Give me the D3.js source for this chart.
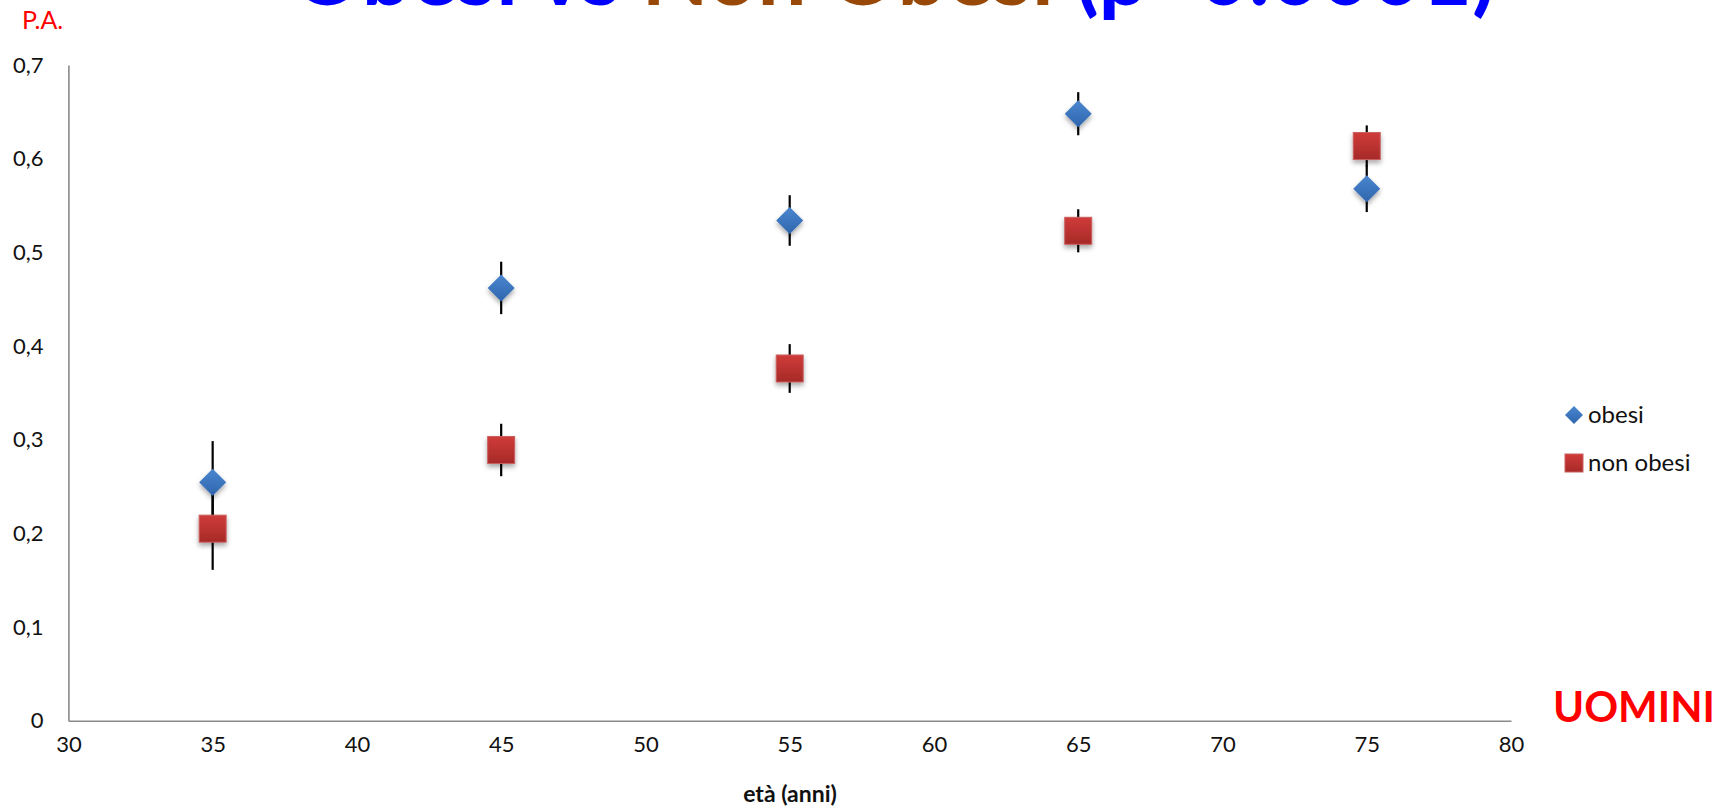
<!DOCTYPE html>
<html>
<head>
<meta charset="utf-8">
<script src="https://cdn.jsdelivr.net/npm/d3@7"></script>
<style>
  html, body { margin: 0; padding: 0; background: #fff; overflow: hidden; }
  svg { display: block; font-family: Lato, "Open Sans", sans-serif; }
</style>
</head>
<body>
<svg id="chart" width="1729" height="811"></svg>
<script>
// Age groups (years) and mean values with error half-widths
const ages = [35, 45, 55, 65, 75];
const obesi = [0.2545, 0.462, 0.534, 0.648, 0.568];
const obesiErr = [0.044, 0.028, 0.027, 0.023, 0.025];
const nonObesi = [0.205, 0.289, 0.376, 0.523, 0.6135];
const nonObesiErr = [0.044, 0.028, 0.026, 0.023, 0.022];
const xTicks = [30, 35, 40, 45, 50, 55, 60, 65, 70, 75, 80];
const yTicks = [0, 0.1, 0.2, 0.3, 0.4, 0.5, 0.6, 0.7];
const seriesNames = ["obesi", "non obesi"];

const svg = d3.select("#chart");
const defs = svg.append("defs");

// marker gradients and soft shadow
const gBlue = defs.append("linearGradient").attr("id", "gBlue").attr("x1", 0).attr("y1", 0).attr("x2", 0).attr("y2", 1);
gBlue.append("stop").attr("offset", "0%").attr("stop-color", "#4a86cf");
gBlue.append("stop").attr("offset", "100%").attr("stop-color", "#2f66ad");
const gRed = defs.append("linearGradient").attr("id", "gRed").attr("x1", 0).attr("y1", 0).attr("x2", 0).attr("y2", 1);
gRed.append("stop").attr("offset", "0%").attr("stop-color", "#d03b39");
gRed.append("stop").attr("offset", "100%").attr("stop-color", "#a62a28");
const shadow = defs.append("filter").attr("id", "shadow").attr("x", "-50%").attr("y", "-50%").attr("width", "200%").attr("height", "220%");
shadow.append("feDropShadow").attr("dx", 0).attr("dy", 3).attr("stdDeviation", 2.5)
  .attr("flood-color", "#000").attr("flood-opacity", 0.35);

const x = d3.scaleLinear().domain([30, 80]).range([68.4, 1511]);
const y = d3.scaleLinear().domain([0, 0.7]).range([720.7, 65]);

// axes (no tick marks, gray lines)
const fmt = d => d === 0 ? "0" : d3.format(".1f")(d).replace(".", ",");
const yAxis = svg.append("g").attr("transform", `translate(${x(30)},0)`)
  .call(d3.axisLeft(y).tickValues(yTicks).tickFormat(fmt).tickSize(0).tickPadding(25));
const xAxis = svg.append("g").attr("transform", `translate(0,${y(0)})`)
  .call(d3.axisBottom(x).tickValues(xTicks).tickFormat(d3.format("d")).tickSize(0).tickPadding(25));
[yAxis, xAxis].forEach(a => {
  a.select(".domain").attr("stroke", "#8a8a8a").attr("stroke-width", 1.6);
  a.selectAll("text").attr("font-family", "Lato, sans-serif").attr("font-size", 22).attr("fill", "#111");
});
xAxis.selectAll("text").attr("dy", "0.3em");

// error bars
const bars = svg.append("g").attr("stroke", "#000").attr("stroke-width", 2.2);
ages.forEach((a, i) => {
  bars.append("line").attr("x1", x(a)).attr("x2", x(a))
    .attr("y1", y(obesi[i] + obesiErr[i])).attr("y2", y(obesi[i] - obesiErr[i]));
  bars.append("line").attr("x1", x(a)).attr("x2", x(a))
    .attr("y1", y(nonObesi[i] + nonObesiErr[i])).attr("y2", y(nonObesi[i] - nonObesiErr[i]));
});

// markers
const diamond = s => `M0,${-s}L${s},0L0,${s}L${-s},0Z`;
svg.append("g").selectAll("path").data(ages).join("path")
  .attr("d", diamond(13.5))
  .attr("transform", (a, i) => `translate(${x(a)},${y(obesi[i])})`)
  .attr("fill", "url(#gBlue)").attr("filter", "url(#shadow)");
svg.append("g").selectAll("rect").data(ages).join("rect")
  .attr("x", a => x(a) - 13.5).attr("y", (a, i) => y(nonObesi[i]) - 13.5)
  .attr("width", 27).attr("height", 27)
  .attr("fill", "url(#gRed)").attr("stroke", "#c96060").attr("stroke-width", 1)
  .attr("filter", "url(#shadow)");

// legend
const lg = svg.append("g");
lg.append("path").attr("d", diamond(9)).attr("transform", "translate(1574,415)").attr("fill", "url(#gBlue)");
lg.append("rect").attr("x", 1565).attr("y", 454).attr("width", 18).attr("height", 18)
  .attr("fill", "url(#gRed)").attr("stroke", "#c96060").attr("stroke-width", 1);
lg.selectAll("text").data(seriesNames).join("text")
  .attr("x", 1588).attr("y", (d, i) => 415 + i * 48).attr("dy", "0.35em")
  .attr("font-size", 24).attr("fill", "#111").text(d => d);

// axis labels
svg.append("text").attr("x", 22).attr("y", 29).attr("font-size", 25).attr("fill", "#ff0000").text("P.A.");
svg.append("text").attr("x", 790).attr("y", 794).attr("dy", "0.35em").attr("text-anchor", "middle")
  .attr("font-size", 23).attr("font-weight", 700).attr("fill", "#111").text("età (anni)");
svg.append("text").attr("x", 1553).attr("y", 722).attr("font-size", 42).attr("font-weight", 700)
  .attr("fill", "#ff0000").text("UOMINI");

// title, mostly above the top edge
const title = svg.append("text").attr("x", 292).attr("y", 5).attr("font-weight", 700).attr("font-size", 80);
title.append("tspan").attr("fill", "#0000ff").text("Obesi vs ");
title.append("tspan").attr("fill", "#984807").text("Non Obesi ");
title.append("tspan").attr("fill", "#0000ff").text("(p<0.0001)");
const w = title.node().getComputedTextLength();
title.attr("font-size", 80 * 1204 / w);
</script>
</body>
</html>
